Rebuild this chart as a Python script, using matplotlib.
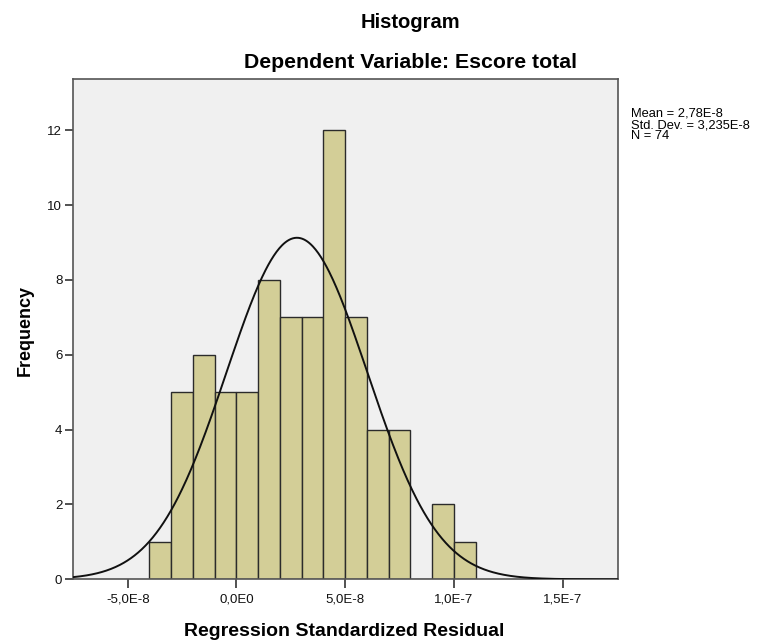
import numpy as np
import matplotlib
matplotlib.use("Agg")
import matplotlib.pyplot as plt

# ---- data ----
bin_lefts = [-4e-8, -3e-8, -2e-8, -1e-8, 0.0, 1e-8, 2e-8, 3e-8, 4e-8, 5e-8, 6e-8, 7e-8, 8e-8, 9e-8, 10e-8]
counts = [1, 5, 6, 5, 5, 8, 7, 7, 12, 7, 4, 4, 0, 2, 1]
bin_width = 1e-8
mean_val = 2.78e-8
sd_val = 3.235e-8
n_val = 74
x_ticks = [-5e-8, 0.0, 5e-8, 1e-7, 1.5e-7]
x_tick_labels = ["-5,0E-8", "0,0E0", "5,0E-8", "1,0E-7", "1,5E-7"]
y_ticks = [0, 2, 4, 6, 8, 10, 12]
title1 = "Histogram"
title2 = "Dependent Variable: Escore total"
x_label = "Regression Standardized Residual"
y_label = "Frequency"
stats_lines = ["Mean = 2,78E-8", "Std. Dev. = 3,235E-8", "N = 74"]

plt.rcParams['font.family'] = ['Liberation Sans', 'DejaVu Sans']

W, H = 760, 641
fig = plt.figure(figsize=(W / 100, H / 100), dpi=100)
ax = fig.add_axes([72.7 / W, (H - 579.3) / H, (617.7 - 72.7) / W, (579.3 - 79.3) / H])
ax.set_facecolor("#F0F0F0")

ax.bar(bin_lefts, counts, width=bin_width, align="edge", color="#D3CE97",
       edgecolor="#2b2b2b", linewidth=1.0, zorder=2)

xlim = (-7.53e-8, 17.53e-8)
xs = np.linspace(xlim[0], xlim[1], 600)
ys = n_val * bin_width / (sd_val * np.sqrt(2 * np.pi)) * np.exp(-0.5 * ((xs - mean_val) / sd_val) ** 2)
ax.plot(xs, ys, color="#111111", linewidth=1.4, zorder=3)

ax.set_xlim(*xlim)
ax.set_ylim(0, 13.36)
ax.set_xticks(x_ticks)
ax.set_xticklabels(x_tick_labels)
ax.set_yticks(y_ticks)
ax.set_yticklabels([str(v) for v in y_ticks])
ax.tick_params(axis="x", direction="out", length=6.5, width=1.2, colors="#333333",
               labelsize=9.5, labelcolor="#111111", pad=3.5)
ax.tick_params(axis="y", direction="out", length=6, width=1.2, colors="#333333",
               labelsize=9.5, labelcolor="#111111", pad=1.5)
for s in ax.spines.values():
    s.set_color("#555555")
    s.set_linewidth(1.2)

fig.text(344 / W, 1 - 632 / H, x_label, ha="center", va="center", fontsize=14, fontweight="bold")
fig.text(25 / W, 1 - 330 / H, y_label, ha="center", va="center", rotation=90,
         fontsize=13, fontweight="bold")

fig.text(410 / W, 1 - 22 / H, title1, ha="center", va="center", fontsize=14.5, fontweight="bold")
fig.text(410 / W, 1 - 62 / H, title2, ha="center", va="center", fontsize=15.3, fontweight="bold")

fig.text(631 / W, 1 - 125 / H, "\n".join(stats_lines), ha="left", va="center",
         fontsize=9.3, linespacing=0.93)

fig.savefig("out.png", dpi=100)
